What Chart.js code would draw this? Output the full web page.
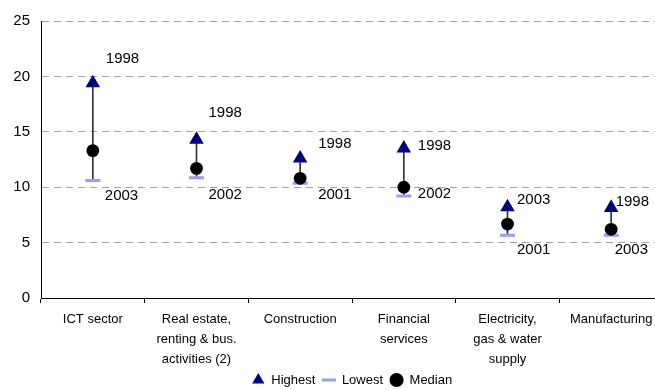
<!DOCTYPE html>
<html><head><meta charset="utf-8">
<script src="https://cdn.jsdelivr.net/npm/chart.js@4.4.1/dist/chart.umd.min.js"></script>
<style>html,body{margin:0;padding:0;overflow:hidden;background:#fff;width:655px;height:390px}#clip{width:655px;height:390px;overflow:hidden;position:relative}#c{display:block}</style>
</head><body><div id="clip"><canvas id="c" width="664" height="390"></canvas></div>
<script>
const categories = [["ICT sector"],["Real estate,","renting & bus.","activities (2)"],["Construction"],["Financial","services"],["Electricity,","gas & water","supply"],["Manufacturing"]];
const highest = [19.4, 14.3, 12.6, 13.5, 8.2, 8.15];
const lowest = [10.6, 10.85, 10.35, 9.2, 5.67, 5.67];
const median = [13.3, 11.7, 10.8, 10.0, 6.67, 6.2];
const highestYears = ["1998","1998","1998","1998","2003","1998"];
const lowestYears = ["2003","2002","2001","2002","2001","2003"];
const yMin = 0, yMax = 25, yStep = 5;

// label placement (pixel offsets from the marker) - style, not data
const highLabelOffset = [[13,-24],[12,-26.6],[18,-15],[14,-3],[9.5,-7],[4.5,-6]];
const lowLabelOffset = [[12,15],[12,17],[18,12],[14,-2],[9.5,15],[3.5,15]];

const ARIAL = '"Liberation Sans", Arial, sans-serif';

const yearLabels = {
  id: 'yearLabels',
  afterDatasetsDraw(chart) {
    const ctx = chart.ctx;
    const hi = chart.getDatasetMeta(0).data, lo = chart.getDatasetMeta(1).data;
    ctx.save();
    ctx.font = '15px ' + ARIAL;
    ctx.fillStyle = '#000';
    ctx.textAlign = 'left';
    ctx.textBaseline = 'middle';
    hi.forEach((p, i) => ctx.fillText(highestYears[i], p.x + highLabelOffset[i][0], p.y + highLabelOffset[i][1]));
    lo.forEach((p, i) => ctx.fillText(lowestYears[i], p.x + lowLabelOffset[i][0], p.y + lowLabelOffset[i][1]));
    ctx.restore();
  },
  afterLayout(chart) {
    const lg = chart.legend;
    if (lg) {
      const h = lg.bottom - lg.top;
      lg.left = chart.chartArea.left; lg.right = chart.chartArea.right;
      lg.top = 366.5; lg.bottom = lg.top + h;
    }
  }
};

new Chart(document.getElementById('c'), {
  type: 'bar',
  data: {
    labels: categories,
    datasets: [
      { type: 'line', label: 'Highest', data: highest, showLine: false, order: 0,
        pointStyle: 'triangle', pointRadius: 8.4, pointBackgroundColor: '#000080', pointBorderColor: '#000080', pointBorderWidth: 0,
        backgroundColor: '#000080', borderColor: '#000080' },
      { type: 'line', label: 'Lowest', data: lowest, showLine: false, order: 2,
        pointStyle: 'line', pointRadius: 7.5, pointBorderColor: '#9999FF', pointBackgroundColor: '#9999FF', pointBorderWidth: 3,
        backgroundColor: '#9999FF', borderColor: '#9999FF', borderWidth: 3 },
      { type: 'line', label: 'Median', data: median, showLine: false, order: 1,
        pointStyle: 'circle', pointRadius: 6.4, pointBackgroundColor: '#000', pointBorderColor: '#000', pointBorderWidth: 0,
        backgroundColor: '#000', borderColor: '#000' },
      { type: 'bar', label: '', data: lowest.map((v, i) => [v, highest[i]]), order: 3,
        backgroundColor: '#333', barThickness: 1, borderWidth: 0 }
    ]
  },
  options: {
    responsive: false, maintainAspectRatio: false, animation: false, events: [],
    layout: { autoPadding: false, padding: { top: 21, right: 1, left: 0, bottom: -10 } },
    plugins: {
      tooltip: { enabled: false },
      legend: {
        position: 'bottom',
        labels: {
          usePointStyle: true, boxHeight: 10, padding: 7, color: '#000',
          font: { family: ARIAL, size: 13 },
          filter: item => item.text !== '',
          sort: (a, b) => a.datasetIndex - b.datasetIndex
        }
      }
    },
    scales: {
      x: {
        offset: true,
        grid: { display: true, drawOnChartArea: false, offset: true, tickLength: 5, color: '#000', tickColor: '#000' },
        border: { display: true, color: '#000', width: 1 },
        ticks: { color: '#000', padding: 6, maxRotation: 0, autoSkip: false, font: { family: ARIAL, size: 13, lineHeight: 1.54 } },
        afterFit(scale) { scale.height = 72; scale.paddingLeft = 0; scale.paddingRight = 0; }
      },
      y: {
        min: yMin, max: yMax,
        grid: { drawTicks: false, color: ctx => ctx.tick && ctx.tick.value === 0 ? 'rgba(0,0,0,0)' : '#a0a0a0', lineWidth: 1 },
        border: { display: true, color: '#000', width: 1, dash: [7, 5] },
        ticks: { stepSize: yStep, color: '#000', padding: 11, font: { family: ARIAL, size: 15 } },
        afterFit(scale) { scale.width = 41; }
      }
    }
  },
  plugins: [yearLabels]
});
</script>
</body></html>
